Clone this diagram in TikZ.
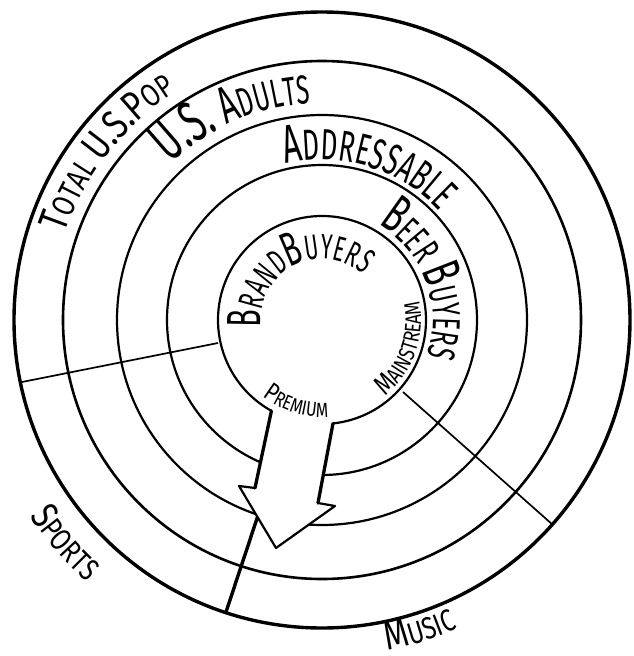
\documentclass[tikz,border=0pt]{standalone}
\usepackage{fontspec}
\newfontfamily\hand{Fira Sans}[FakeStretch=0.6]
\newfontfamily\handw{Fira Sans}[FakeStretch=0.78]
\usetikzlibrary{decorations.text}
\newcommand\fsz[1]{\hand\fontsize{#1}{#1}\selectfont}
\newcommand\fwz[1]{\handw\fontsize{#1}{#1}\selectfont}
\begin{document}
\begin{tikzpicture}[x=1pt,y=-1pt,
  ring/.style={line width=#1, draw=black},
  divider/.style={line width=1.7, draw=black},
  shaft/.style={line width=3.3, draw=black, line cap=round},
  head/.style={line width=2.2, draw=black, line join=round},
  lbl/.style={decorate, decoration={text along path, text align=center, text={#1}}}]
\useasboundingbox (0,0) rectangle (634,656);
\fill[white] (0,0) rectangle (634,656);
\coordinate (O) at (322,320);
% rings
\draw[ring=3.4] (O) circle[radius=308];
\draw[ring=2.6] (O) circle[radius=259];
\draw[ring=2.2] (O) circle[radius=205];
\draw[ring=2.2] (O) circle[radius=155];
\draw[ring=2.2] (O) ++(119.1:104) arc[start angle=119.1, end angle=443.9, radius=104];
% dividers
\coordinate (L1) at (218,343);
\coordinate (L2) at (22,382);
\coordinate (R1) at (403,392);
\coordinate (R2) at (553,525);
\draw[divider] (L1) -- (L2);
\draw[divider] (R1) -- (R2);
% arrow
\coordinate (A1) at (271.4,410.9);
\coordinate (A2) at (255,488);
\coordinate (A3) at (239,486);
\coordinate (A4) at (276,548);
\coordinate (A5) at (335,506);
\coordinate (A6) at (318,503);
\coordinate (A7) at (333,423.4);
\fill[white] (A1) -- (A2) -- (A3) -- (A4) -- (A5) -- (A6) -- (A7) -- cycle;
\draw[head] (A2) -- (A3) -- (A4) -- (A5) -- (A6);
\draw[shaft] (A1) -- (A2);
\draw[shaft] (A7) -- (A6);
\coordinate (T1) at (257.5,517);
\coordinate (T2) at (226,612);
\draw[line width=3.4] (T1) -- (T2);
% labels
\path[lbl={|\fwz{41}|T|\fwz{32}|OTAL |\fwz{41}|U.S.P|\fwz{32}|OP}]
  (O) ++(158:271) arc[start angle=158, end angle=278, radius=271];
\path[lbl={|\fsz{58}|U.S. |\fsz{52}|A|\fsz{40.6}|DULTS}]
  (O) ++(186.5:217) arc[start angle=186.5, end angle=306.5, radius=217];
\path[lbl={|\fsz{53.7}|A|\fsz{43.5}|DDRESSABLE}]
  (O) ++(227:160) arc[start angle=227, end angle=347, radius=160];
\path[lbl={|\fsz{53.7}|B|\fsz{39}|EER |\fsz{53.7}|B|\fsz{39}|UYERS}]
  (O) ++(279.5:111) arc[start angle=279.5, end angle=399.5, radius=111];
\path[lbl={|\fsz{48}|B|\fsz{35}|RAND|\fsz{48}|B|\fsz{35}|UYERS}]
  (O) ++(172.5:61) arc[start angle=172.5, end angle=312.5, radius=61];
\path[lbl={|\fwz{28}|M|\fwz{22.5}|AINSTREAM}]
  (O) ++(79.5:99) arc[start angle=79.5, end angle=-40.5, radius=99];
\path[lbl={|\fwz{26}|P|\fwz{20.5}|REMIUM}]
  (O) ++(157:97) arc[start angle=157, end angle=57, radius=97];
\path[lbl={|\fwz{39}|S|\fwz{31}|PORTS}]
  (O) ++(169:352) arc[start angle=169, end angle=109, radius=352];
\path[lbl={|\fwz{40}|M|\fwz{31}|USIC}]
  (O) ++(102.5:337) arc[start angle=102.5, end angle=42.5, radius=337];
\end{tikzpicture}
\end{document}
